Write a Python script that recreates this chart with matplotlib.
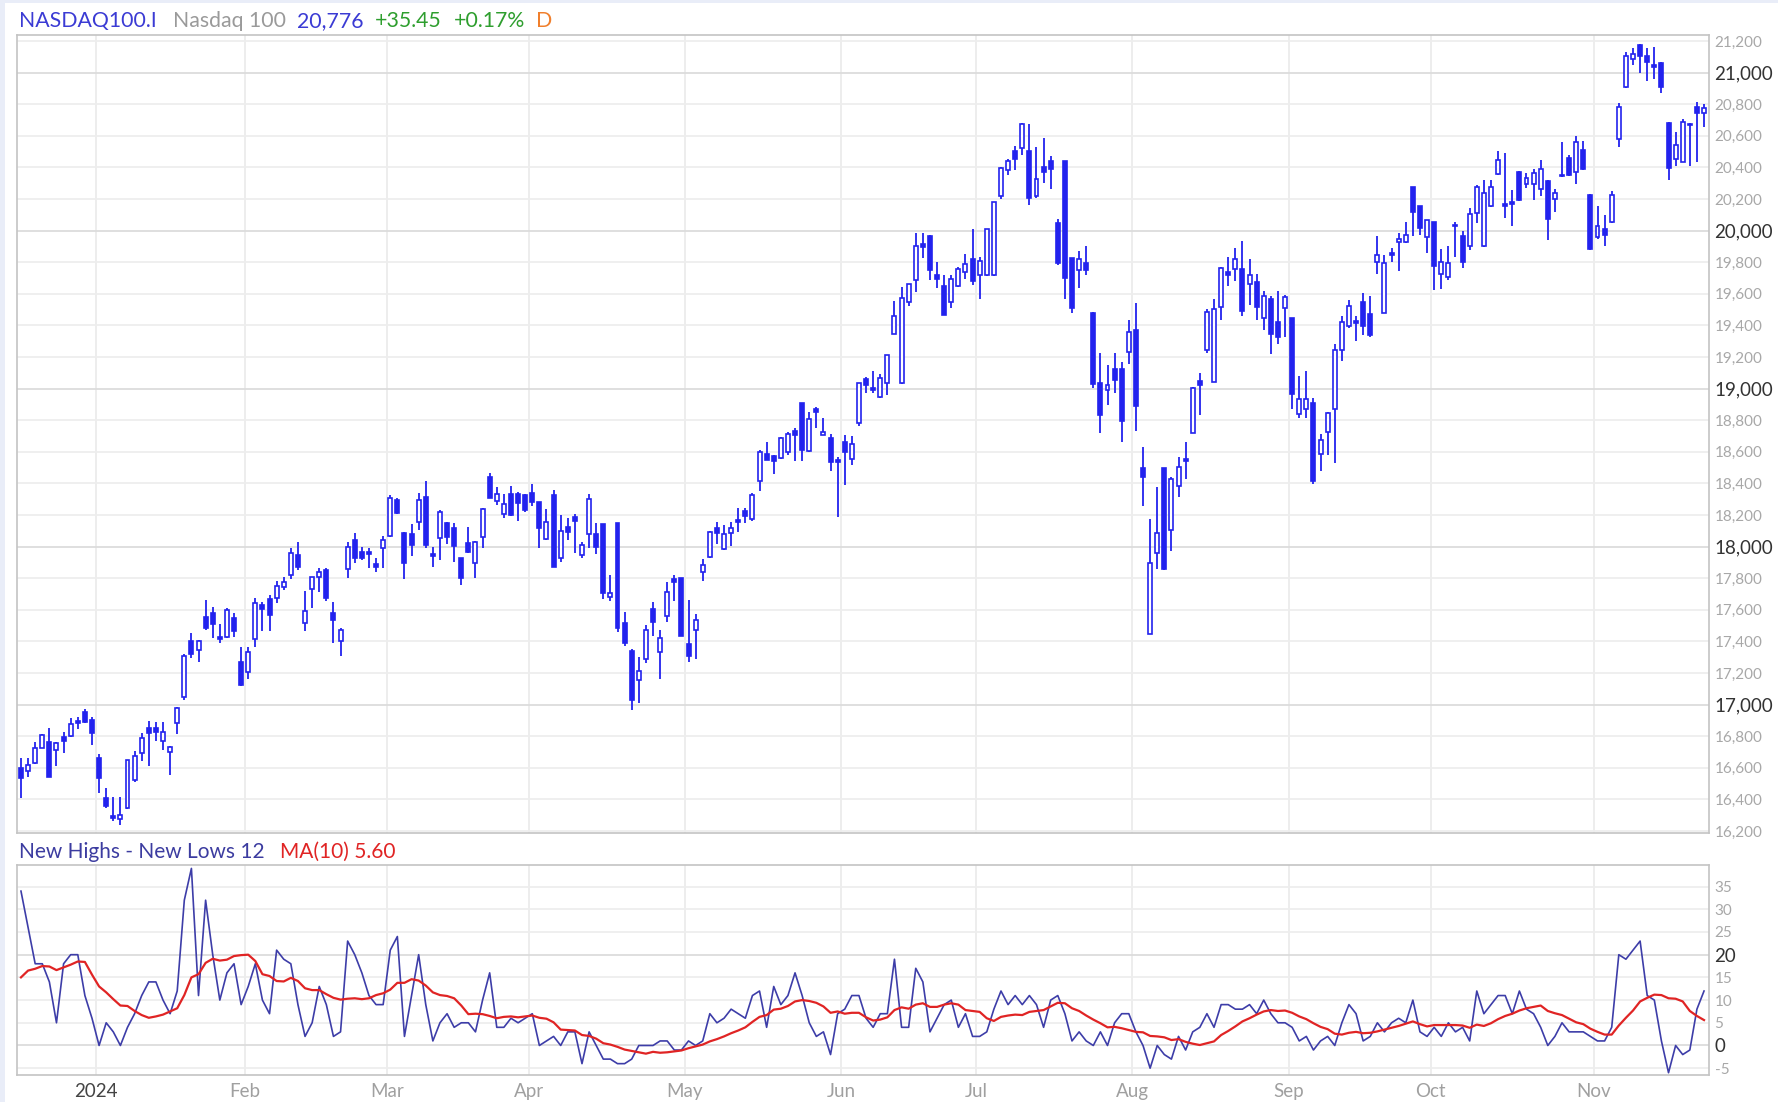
import numpy as np
import pandas as pd
import matplotlib
matplotlib.use('Agg')
import matplotlib.pyplot as plt
from matplotlib.patches import Rectangle

plt.rcParams['font.family'] = ['Lato', 'DejaVu Sans']

# trading days shown on the chart
holidays = ['2023-12-25', '2024-01-01', '2024-01-15', '2024-02-19', '2024-03-29',
            '2024-05-27', '2024-06-19', '2024-07-04', '2024-09-02']
dates = pd.bdate_range('2023-12-14', '2024-11-22', freq='C', holidays=holidays)

opens = [16596, 16579, 16628, 16727, 16765, 16712, 16796, 16803, 16898, 16955,
         16902, 16664, 16406, 16294, 16275, 16343, 16522, 16691, 16853, 16853,
         16769, 16701, 16881, 17050, 17402, 17345, 17556, 17581, 17425, 17430,
         17550, 17267, 17208, 17415, 17630, 17666, 17672, 17746, 17820, 17946,
         17514, 17729, 17809, 17852, 17581, 17402, 17858, 18041, 17963, 17963,
         17887, 17989, 18067, 18295, 18088, 18077, 18158, 18316, 17955, 18052,
         18147, 18116, 17926, 18021, 17894, 18063, 18442, 18289, 18204, 18331,
         18333, 18327, 18337, 18280, 18048, 18327, 17926, 18122, 18189, 17947,
         18078, 18078, 18143, 17679, 18147, 17514, 17339, 17155, 17288, 17605,
         17335, 17561, 17795, 17799, 17381, 17472, 17841, 17936, 18120, 17985,
         18088, 18168, 18225, 18175, 18415, 18584, 18573, 18559, 18601, 18732,
         18907, 18605, 18871, 18706, 18685, 18548, 18660, 18552, 18783, 19059,
         19005, 18946, 19033, 19348, 19033, 19548, 19685, 19913, 19967, 19722,
         19652, 19548, 19648, 19739, 19822, 19717, 19717, 19717, 20221, 20386,
         20504, 20525, 20504, 20217, 20402, 20438, 20048, 20438, 19826, 19750,
         19793, 19478, 19033, 18990, 19127, 19127, 19229, 19370, 18496, 17447,
         17958, 18496, 18105, 18381, 18555, 18718, 19048, 19244, 19044, 19517,
         19735, 19756, 19756, 19663, 19674, 19446, 19565, 19424, 19507, 19447,
         18836, 18872, 18906, 18583, 18725, 18872, 19247, 19394, 19426, 19546,
         19475, 19799, 19479, 19858, 19925, 19925, 20275, 20153, 19959, 20052,
         19727, 19706, 20037, 19963, 19900, 20111, 19900, 20157, 20359, 20168,
         20178, 20374, 20296, 20296, 20262, 20311, 20199, 20347, 20459, 20374,
         20511, 20227, 19959, 20010, 20052, 20579, 20907, 21084, 21175, 21105,
         21048, 21063, 20680, 20452, 20437, 20676, 20781, 20747]
highs = [16664, 16659, 16765, 16811, 16853, 16765, 16828, 16912, 16923, 16969,
         16919, 16685, 16474, 16417, 16417, 16652, 16708, 16822, 16896, 16891,
         16887, 16737, 16987, 17318, 17450, 17408, 17661, 17619, 17507, 17609,
         17577, 17366, 17366, 17672, 17651, 17693, 17784, 17809, 17989, 18031,
         17719, 17809, 17866, 17862, 17651, 17482, 18027, 18084, 17999, 17989,
         17925, 18067, 18326, 18305, 18090, 18141, 18337, 18415, 17999, 18232,
         18158, 18147, 17930, 18126, 18035, 18246, 18464, 18379, 18331, 18386,
         18343, 18330, 18394, 18284, 18238, 18358, 18200, 18183, 18204, 18031,
         18333, 18147, 18145, 17820, 18150, 17584, 17352, 17299, 17504, 17651,
         17472, 17778, 17820, 17802, 17662, 17571, 17921, 18099, 18158, 18137,
         18158, 18246, 18242, 18337, 18611, 18664, 18580, 18696, 18723, 18753,
         18910, 18854, 18886, 18812, 18711, 18569, 18706, 18700, 19035, 19076,
         19113, 19092, 19215, 19554, 19641, 19665, 19982, 19982, 19974, 19800,
         19717, 19717, 19772, 19852, 20010, 19830, 20012, 20184, 20402, 20456,
         20538, 20684, 20673, 20532, 20586, 20473, 20076, 20440, 19828, 19869,
         19902, 19483, 19228, 19148, 19228, 19170, 19431, 19539, 18631, 18175,
         18375, 18498, 18440, 18566, 18664, 19011, 19098, 19504, 19565, 19767,
         19830, 19887, 19935, 19822, 19728, 19620, 19587, 19620, 19590, 19449,
         19079, 19110, 18942, 18710, 18851, 19279, 19458, 19563, 19458, 19605,
         19588, 19963, 19847, 19890, 19984, 20052, 20277, 20155, 20069, 20054,
         19883, 19904, 20052, 19995, 20143, 20290, 20322, 20322, 20501, 20490,
         20258, 20380, 20362, 20389, 20444, 20322, 20263, 20558, 20480, 20600,
         20564, 20233, 20157, 20100, 20248, 20810, 21133, 21154, 21181, 21154,
         21160, 21070, 20690, 20621, 20705, 20684, 20817, 20802]
lows = [16406, 16543, 16623, 16723, 16540, 16611, 16691, 16796, 16845, 16885,
        16744, 16438, 16343, 16263, 16237, 16340, 16512, 16642, 16611, 16769,
        16712, 16554, 16811, 17029, 17296, 17271, 17472, 17419, 17387, 17419,
        17430, 17120, 17162, 17366, 17467, 17467, 17641, 17725, 17795, 17852,
        17465, 17613, 17714, 17655, 17387, 17309, 17803, 17894, 17915, 17862,
        17841, 17862, 18063, 18204, 17792, 17942, 18105, 17989, 17871, 17915,
        18016, 17904, 17757, 17957, 17803, 17993, 18308, 18263, 18183, 18196,
        18162, 18217, 18259, 17993, 18042, 17871, 17904, 18042, 17961, 17926,
        17993, 17951, 17668, 17655, 17457, 17373, 16966, 17008, 17261, 17436,
        17162, 17525, 17655, 17434, 17272, 17288, 17782, 17930, 18016, 17978,
        18006, 18094, 18147, 18164, 18352, 18546, 18457, 18554, 18580, 18542,
        18542, 18601, 18748, 18704, 18478, 18189, 18390, 18516, 18766, 18974,
        18974, 18939, 18961, 19344, 19030, 19522, 19613, 19826, 19685, 19635,
        19465, 19511, 19641, 19691, 19656, 19570, 19715, 19713, 20200, 20352,
        20386, 20478, 20163, 20206, 20299, 20265, 19783, 19570, 19478, 19635,
        19722, 19001, 18718, 18896, 18975, 18664, 19157, 18729, 18258, 17445,
        17860, 17853, 17969, 18316, 18425, 18716, 18831, 19228, 19039, 19435,
        19648, 19678, 19457, 19526, 19435, 19370, 19222, 19283, 19325, 18868,
        18815, 18815, 18394, 18478, 18577, 18531, 19173, 19384, 19300, 19336,
        19327, 19727, 19477, 19799, 19742, 19921, 19968, 19974, 19858, 19622,
        19630, 19689, 19833, 19763, 19875, 20048, 19898, 20149, 20353, 20079,
        20031, 20190, 20268, 20195, 20216, 19938, 20115, 20338, 20346, 20296,
        20385, 19879, 19946, 19904, 20048, 20532, 20905, 21049, 20996, 20949,
        20958, 20869, 20322, 20406, 20431, 20406, 20437, 20654]
closes = [16533, 16617, 16727, 16807, 16543, 16754, 16769, 16874, 16881, 16891,
          16817, 16533, 16360, 16280, 16301, 16649, 16674, 16786, 16817, 16828,
          16828, 16733, 16976, 17309, 17318, 17402, 17486, 17507, 17413, 17598,
          17467, 17124, 17334, 17641, 17603, 17567, 17752, 17778, 17957, 17873,
          17594, 17805, 17841, 17672, 17535, 17472, 17999, 17930, 17930, 17955,
          17870, 18041, 18305, 18214, 17894, 18010, 18295, 18010, 17942, 18217,
          18063, 18006, 17803, 17968, 18031, 18238, 18310, 18335, 18270, 18200,
          18274, 18232, 18284, 18115, 18158, 17873, 18099, 18094, 18162, 18010,
          18301, 17999, 17704, 17708, 17487, 17387, 17029, 17212, 17472, 17521,
          17423, 17715, 17774, 17436, 17309, 17535, 17883, 18090, 18088, 18078,
          18115, 18153, 18196, 18327, 18597, 18548, 18542, 18685, 18711, 18706,
          18611, 18805, 18854, 18727, 18537, 18537, 18597, 18652, 19033, 19022,
          18989, 19070, 19213, 19461, 19576, 19663, 19902, 19895, 19750, 19691,
          19467, 19696, 19754, 19787, 19678, 19809, 20010, 20178, 20395, 20438,
          20452, 20673, 20206, 20326, 20373, 20391, 19794, 19702, 19511, 19822,
          19750, 19027, 18831, 19022, 19055, 18794, 19359, 18892, 18440, 17893,
          18084, 17860, 18425, 18505, 18540, 19005, 19022, 19483, 19504, 19765,
          19722, 19822, 19489, 19717, 19517, 19587, 19348, 19326, 19580, 18963,
          18931, 18935, 18415, 18674, 18843, 19247, 19420, 19521, 19416, 19399,
          19336, 19847, 19795, 19848, 19946, 19974, 20115, 20016, 20064, 19778,
          19799, 19795, 20027, 19799, 20105, 20275, 20241, 20275, 20444, 20157,
          20170, 20195, 20332, 20364, 20389, 20073, 20241, 20353, 20353, 20558,
          20389, 19883, 20031, 19974, 20227, 20781, 21105, 21118, 21105, 21070,
          21038, 20907, 20395, 20543, 20690, 20669, 20747, 20776]

# New Highs - New Lows, plus the days before the chart used by the MA
nhnl_prior = [11, 14, 12, 15, 13, 12, 14, 13, 12]
nhnl = [34, 26, 18, 18, 14, 5, 18, 20, 20, 11,
        6, 0, 5, 3, 0, 4, 7, 11, 14, 14,
        10, 7, 12, 32, 39, 11, 32, 20, 10, 16,
        18, 9, 13, 18, 10, 7, 21, 19, 18, 9,
        2, 5, 13, 9, 2, 3, 23, 20, 16, 11,
        9, 9, 21, 24, 2, 11, 20, 9, 1, 5,
        7, 4, 5, 5, 3, 10, 16, 4, 4, 6,
        5, 6, 7, 0, 1, 2, 0, 3, 3, -4,
        3, 0, -3, -3, -4, -4, -3, 0, 0, 0,
        1, 1, -1, -1, 1, 0, 1, 7, 5, 6,
        8, 7, 6, 11, 12, 4, 13, 9, 11, 16,
        11, 5, 2, 3, -2, 7, 8, 11, 11, 6,
        4, 7, 7, 19, 4, 4, 17, 14, 3, 6,
        9, 10, 4, 7, 2, 2, 3, 8, 12, 9,
        11, 9, 11, 9, 4, 10, 11, 7, 1, 3,
        1, 0, 3, 0, 5, 7, 7, 3, 0, -5,
        0, -2, -3, 2, -1, 3, 4, 7, 4, 9,
        9, 8, 8, 9, 7, 10, 7, 5, 5, 4,
        1, 2, -1, 1, 2, 0, 5, 9, 7, 1,
        2, 5, 3, 5, 6, 5, 10, 3, 2, 4,
        2, 5, 3, 4, 1, 12, 7, 9, 11, 11,
        7, 12, 8, 7, 4, 0, 2, 5, 3, 3,
        3, 2, 1, 1, 4, 20, 19, 21, 23, 11,
        10, 1, -6, 0, -2, -1, 8, 12]

price_levels = list(range(16200, 21201, 200))
nhnl_levels = list(range(-5, 36, 5))

n = len(closes)
x = np.arange(n)
o = np.array(opens)
c = np.array(closes)
hi = np.maximum(np.array(highs), np.maximum(o, c))
lo = np.minimum(np.array(lows), np.minimum(o, c))
ma10 = pd.Series(nhnl_prior + nhnl).rolling(10).mean().values[-n:]

# month boundaries: gridline sits between last day and first day of a month
month_idx = [i for i in range(1, n) if dates[i].month != dates[i - 1].month]
month_pos = [i - 0.5 for i in month_idx]
month_lab = ['2024' if dates[i].month == 1 else dates[i].strftime('%b') for i in month_idx]

blue = '#2222ee'
W, H = 1778, 1102
fig = plt.figure(figsize=(W / 100, H / 100), dpi=100)
fig.patch.set_facecolor('white')
fig.add_artist(Rectangle((0, 0), 5 / W, 1, transform=fig.transFigure, color='#e9edf8', lw=0))
fig.add_artist(Rectangle((0, 1 - 3 / H), 1, 3 / H, transform=fig.transFigure, color='#e9edf8', lw=0))


def box(l, t, r, b):
    return [l / W, 1 - b / H, (r - l) / W, (b - t) / H]


ax = fig.add_axes(box(17, 35, 1709, 833))
ax2 = fig.add_axes(box(17, 865, 1709, 1075))

for a in (ax, ax2):
    a.set_xlim(-0.56, n - 0.3)
    for s in a.spines.values():
        s.set_color('#c4c4c4')
        s.set_linewidth(1.2)
    for p in month_pos:
        a.axvline(p, color='#ececec', lw=1.3, zorder=0)
    a.yaxis.tick_right()
    a.tick_params(axis='y', length=0, pad=4)

# price panel
ax.set_ylim(16187, 21238)
for v in price_levels:
    ax.axhline(v, color='#dcdcdc' if v % 1000 == 0 else '#eeeeee', lw=1.3, zorder=0)
ax.set_xticks([])
ax.set_yticks(price_levels)
ax.set_yticklabels([f'{v:,}' for v in price_levels])
for lab, v in zip(ax.get_yticklabels(), price_levels):
    if v % 1000 == 0:
        lab.set_color('#333333')
        lab.set_fontsize(13.5)
    else:
        lab.set_color('#a8a8a8')
        lab.set_fontsize(11)

ax.vlines(x, lo, hi, color=blue, lw=1.3, zorder=2)
down = c < o
body_h = np.maximum(np.abs(c - o), 4)
ax.bar(x, body_h, bottom=np.minimum(o, c), width=0.56,
       color=np.where(down, blue, 'white'), edgecolor=blue, linewidth=1.2, zorder=3)

# breadth panel
ax2.set_ylim(-6.5, 39.75)
for v in nhnl_levels:
    ax2.axhline(v, color='#dcdcdc' if v in (0, 20) else '#eeeeee', lw=1.3, zorder=0)
ax2.plot(x, nhnl, color='#3d3da8', lw=1.2, zorder=2)
ax2.plot(x, ma10, color='#e02424', lw=1.6, zorder=3)
ax2.set_yticks(nhnl_levels)
ax2.set_yticklabels([str(v) for v in nhnl_levels])
for lab, v in zip(ax2.get_yticklabels(), nhnl_levels):
    if v in (0, 20):
        lab.set_color('#333333')
        lab.set_fontsize(13.5)
    else:
        lab.set_color('#a8a8a8')
        lab.set_fontsize(11)
ax2.set_xticks(month_pos)
ax2.set_xticklabels(month_lab)
ax2.tick_params(axis='x', length=0, pad=6, labelsize=13.5, labelcolor='#a0a0a0')
ax2.get_xticklabels()[0].set_color('#444444')

# header texts
head = [(19, 'NASDAQ100.I', '#3b3bd4'), (173, 'Nasdaq 100', '#9a9a9a'),
        (297, '20,776', '#3b3bd4'), (375, '+35.45', '#2e9e2e'),
        (454, '+0.17%', '#2e9e2e'), (536, 'D', '#f07f2c')]
for px, txt, col in head:
    fig.text(px / W, 1 - 21 / H, txt, color=col, fontsize=15.3, va='center')
fig.text(19 / W, 1 - 852 / H, 'New Highs - New Lows 12', color='#3c3ca0', fontsize=15, va='center')
fig.text(280 / W, 1 - 852 / H, 'MA(10) 5.60', color='#e02424', fontsize=15, va='center')

fig.savefig('out.png', dpi=100)
